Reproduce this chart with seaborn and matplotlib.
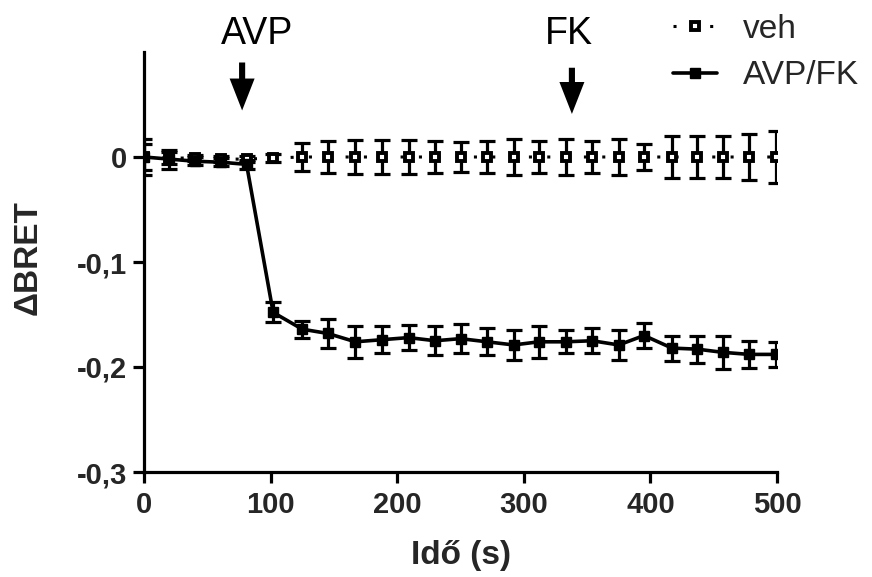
import matplotlib
matplotlib.use("Agg")
import matplotlib.pyplot as plt
from matplotlib.lines import Line2D
import numpy as np
import pandas as pd
import seaborn as sns

# ---- data ----
times = [0, 20, 40, 61, 81, 102, 125, 145, 167, 188, 209, 230, 250,
         271, 292, 312, 333, 354, 375, 395, 417, 437, 457, 478, 499]
veh_mean = [0.0, -0.001, -0.001, -0.002, -0.002, -0.001, 0.0, 0.0, 0.0, 0.0,
            0.0, 0.0, 0.0, 0.0, 0.0, 0.0, 0.0, 0.0, 0.0, 0.0,
            0.0, 0.0, 0.0, 0.0, 0.0]
veh_err = [0.017, 0.006, 0.003, 0.003, 0.003, 0.004, 0.0135, 0.015, 0.016, 0.016,
           0.016, 0.015, 0.014, 0.015, 0.017, 0.015, 0.017, 0.015, 0.017, 0.012,
           0.020, 0.020, 0.020, 0.022, 0.025]
avp_mean = [0.0, -0.002, -0.004, -0.005, -0.007, -0.148, -0.164, -0.168, -0.176, -0.174,
            -0.172, -0.175, -0.173, -0.176, -0.179, -0.176, -0.176, -0.175, -0.179, -0.170,
            -0.182, -0.183, -0.186, -0.188, -0.188]
avp_err = [0.012, 0.009, 0.004, 0.004, 0.004, 0.0095, 0.008, 0.014, 0.015, 0.013,
           0.012, 0.014, 0.014, 0.013, 0.014, 0.015, 0.011, 0.012, 0.014, 0.012,
           0.012, 0.013, 0.016, 0.013, 0.012]
series_names = ["veh", "AVP/FK"]
x_ticks = [0, 100, 200, 300, 400, 500]
y_ticks = [-0.3, -0.2, -0.1, 0.0]
y_tick_labels = ["-0,3", "-0,2", "-0,1", "0"]
events = ["AVP", "FK"]
event_times = [77.5, 338]
event_label_x = [89.5, 335.6]

df = pd.DataFrame({
    "time": times * 2,
    "value": veh_mean + avp_mean,
    "series": [series_names[0]] * len(times) + [series_names[1]] * len(times),
})

sns.set_theme(style="ticks")
plt.rcParams["font.family"] = ["Liberation Sans", "DejaVu Sans"]

fig = plt.figure(figsize=(8.72, 5.77), dpi=100)
ax = fig.add_axes([144 / 872, (577 - 472) / 577, (777 - 144) / 872, (472 - 52) / 577])

LW = 2.3
# error bars
ax.errorbar(times, avp_mean, yerr=avp_err, fmt="none", ecolor="black",
            elinewidth=LW, capsize=5.5, capthick=LW, zorder=2)
ax.errorbar(times, veh_mean, yerr=veh_err, fmt="none", ecolor="black",
            elinewidth=LW, capsize=5.5, capthick=LW, zorder=2)

# lines + markers
sns.lineplot(data=df[df.series == "veh"], x="time", y="value", ax=ax,
             color="black", linewidth=2.2, linestyle=(0, (1.0, 5.0)),
             marker="s", markersize=6, markerfacecolor="white",
             markeredgecolor="black", markeredgewidth=2.8, legend=False,
             zorder=3, estimator=None)
sns.lineplot(data=df[df.series == "AVP/FK"], x="time", y="value", ax=ax,
             color="black", linewidth=2.6, marker="s", markersize=7.5,
             markerfacecolor="black", markeredgecolor="black",
             markeredgewidth=1, legend=False, zorder=4, estimator=None)

ax.set_xlim(0, 500)
ax.set_ylim(-0.3, 0.1)
ax.set_xticks(x_ticks)
ax.set_xticklabels([str(t) for t in x_ticks])
ax.set_yticks(y_ticks)
ax.set_yticklabels(y_tick_labels)
for lab in ax.get_xticklabels() + ax.get_yticklabels():
    lab.set_fontweight("bold")
ax.tick_params(axis="x", labelsize=21, width=LW, length=8, pad=6, color="black")
ax.tick_params(axis="y", labelsize=21, width=LW, length=8, pad=4.3, color="black")
sns.despine(ax=ax)
for s in ["left", "bottom"]:
    ax.spines[s].set_linewidth(LW)
    ax.spines[s].set_color("black")

ax.set_xlabel("Idő (s)", fontsize=24, fontweight="bold")
ax.set_ylabel("ΔBRET", fontsize=24, fontweight="bold")
ax.xaxis.set_label_coords(0.5, (472 - 540) / 420)
ax.yaxis.set_label_coords((44 - 144) / 633, (472 - 258) / 420)

# event arrows and labels
for name, t, lx, ytop, ytip in zip(events, event_times, event_label_x,
                                   [0.090, 0.085], [0.0443, 0.041]):
    ax.annotate("", xy=(t, ytip), xytext=(t, ytop), xycoords="data",
                annotation_clip=False,
                arrowprops=dict(arrowstyle="simple,head_length=1.15,head_width=0.9,tail_width=0.22",
                                mutation_scale=20, lw=0, color="black",
                                shrinkA=0, shrinkB=0))
    ax.text(lx, 0.108, name, fontsize=27, ha="center", va="baseline",
            color="black", clip_on=False)

handles = [
    Line2D([], [], color="black", linewidth=2.2, linestyle=(0, (1.0, 5.0)),
           marker="s", markersize=6, markerfacecolor="white",
           markeredgecolor="black", markeredgewidth=2.8),
    Line2D([], [], color="black", linewidth=2.6, marker="s", markersize=7.5,
           markerfacecolor="black", markeredgecolor="black"),
]
ax.legend(handles, series_names, loc="upper left", bbox_to_anchor=(673 / 872, 0.976),
          bbox_transform=fig.transFigure, frameon=False, fontsize=24,
          handlelength=1.32, handletextpad=0.78, labelspacing=0.46,
          borderpad=0, borderaxespad=0)

fig.savefig("out.png", dpi=100)
